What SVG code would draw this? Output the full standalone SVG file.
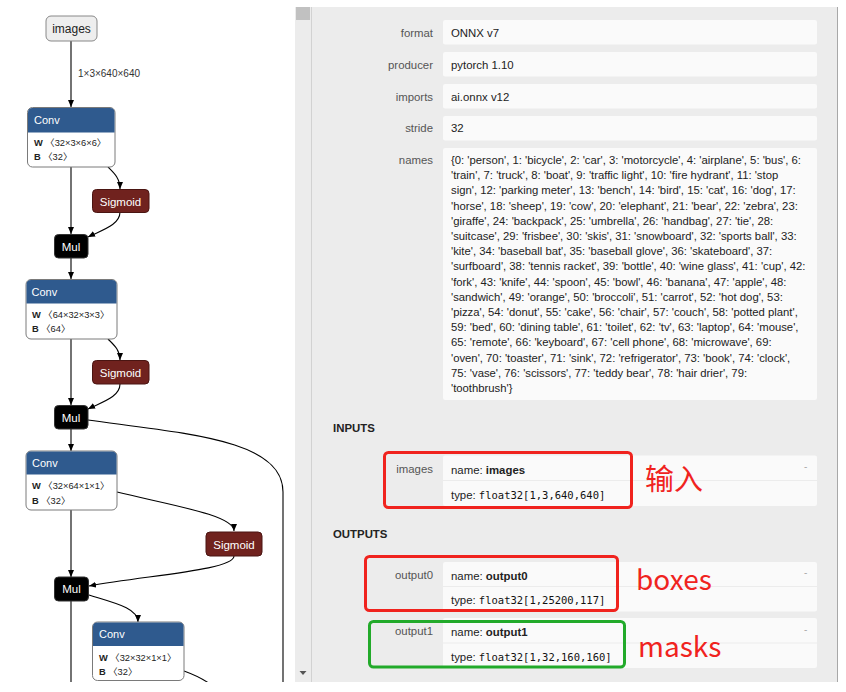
<svg xmlns="http://www.w3.org/2000/svg" width="846" height="692" viewBox="0 0 846 692">
<style>
.t{font-family:"Liberation Sans","Noto Sans CJK SC",sans-serif;}
.hd{font-size:11px;fill:#fff;}
.nm{font-size:11.5px;fill:#fff;text-anchor:middle;}
.bd{font-size:9.3px;fill:#222;}
.bd tspan.b{font-weight:bold;}
.cv{fill:#fff;stroke:#7a7a7a;stroke-width:1;}
.cvh{fill:#2f5a8e;}
.sg{fill:#70221e;stroke:#4a1512;stroke-width:1;}
.ml{fill:#000;stroke:#333;stroke-width:1;}
.edge{fill:none;stroke:#000;stroke-width:1.1;}
.lab{font-size:11.4px;fill:#555;text-anchor:end;}
.val{font-size:11.4px;fill:#222;}
.nmz{font-size:11.3px;fill:#222;}
.box{fill:#fafafa;}
.div{stroke:#ececec;stroke-width:1;}
.mono{font-family:"DejaVu Sans Mono","Liberation Mono",monospace;font-size:10.5px;fill:#111;}
.sec{font-size:11.4px;font-weight:bold;fill:#222;}
.dash{font-size:10px;fill:#aaa;}
.ann{font-family:"Noto Sans CJK SC","Noto Sans",sans-serif;fill:#f0231e;}
</style>
<defs>
<marker id="ah" markerWidth="7" markerHeight="6" refX="7" refY="3" orient="auto" markerUnits="userSpaceOnUse">
<path d="M0,0 L7,3 L0,6 z" fill="#000"/>
</marker>
<clipPath id="cl"><rect x="0" y="0" width="846" height="682"/></clipPath>
</defs>
<rect width="846" height="692" fill="#fff"/>

<g id="graph" clip-path="url(#cl)">
<g id="connectors">
<path class="edge" d="M71,41 V107" marker-end="url(#ah)"/>
<text class="t" x="78" y="76.5" font-size="10" fill="#333">1×3×640×640</text>
<path class="edge" d="M108,167 C114,173 120,178 120,189" marker-end="url(#ah)"/>
<path class="edge" d="M71,167 V234" marker-end="url(#ah)"/>
<path class="edge" d="M120,212 C120,225 102,230 88,237" marker-end="url(#ah)"/>
<path class="edge" d="M71,258 V279" marker-end="url(#ah)"/>
<path class="edge" d="M108,339 C114,345 120,350 120,360" marker-end="url(#ah)"/>
<path class="edge" d="M71,339 V405" marker-end="url(#ah)"/>
<path class="edge" d="M120,384 C120,397 102,402 88,409" marker-end="url(#ah)"/>
<path class="edge" d="M71,429 V451" marker-end="url(#ah)"/>
<path class="edge" d="M88,420 C190,434 283,440 283,492 V690"/>
<path class="edge" d="M117,492 C170,505 234,515 234,531" marker-end="url(#ah)"/>
<path class="edge" d="M71,510 V577" marker-end="url(#ah)"/>
<path class="edge" d="M234,556 C234,570 150,575 89,586" marker-end="url(#ah)"/>
<path class="edge" d="M71,601 V690"/>
<path class="edge" d="M89,595 C115,603 138,608 138,622" marker-end="url(#ah)"/>
<path class="edge" d="M184,671 C195,675 205,679 215,688"/>
</g>

<g id="n-images">
<rect x="46" y="16" width="51" height="25" rx="5" fill="#eee" stroke="#888"/>
<text class="t" x="71.5" y="32.5" font-size="12" fill="#222" text-anchor="middle">images</text>
</g>

<g id="n-conv1">
<rect class="cv" x="27.5" y="107.5" width="87.5" height="59.5" rx="5"/>
<path class="cvh" d="M28,132.5 V112.5 Q28,108 32.5,108 H110 Q114.5,108 114.5,112.5 V132.5 Z"/>
<text class="t hd" x="34" y="124">Conv</text>
<text class="t bd" x="34" y="146"><tspan class="b">W</tspan> 〈32×3×6×6〉</text>
<text class="t bd" x="34" y="160"><tspan class="b">B</tspan> 〈32〉</text>
</g>
<g id="n-sig1">
<rect class="sg" x="92.5" y="189.5" width="56.5" height="23" rx="4"/>
<text class="t nm" x="120.5" y="205.5">Sigmoid</text>
</g>
<g id="n-mul1">
<rect class="ml" x="54.5" y="234.5" width="33.5" height="23.5" rx="4"/>
<text class="t nm" x="71" y="250.5">Mul</text>
</g>

<g id="n-conv2">
<rect class="cv" x="26" y="279.5" width="91" height="59.5" rx="5"/>
<path class="cvh" d="M26.5,303.5 V284.5 Q26.5,280 31,280 H112 Q116.5,280 116.5,284.5 V303.5 Z"/>
<text class="t hd" x="31.5" y="295.5">Conv</text>
<text class="t bd" x="32" y="318"><tspan class="b">W</tspan> 〈64×32×3×3〉</text>
<text class="t bd" x="32" y="332"><tspan class="b">B</tspan> 〈64〉</text>
</g>
<g id="n-sig2">
<rect class="sg" x="92.5" y="360.5" width="56.5" height="23.5" rx="4"/>
<text class="t nm" x="120.5" y="376.5">Sigmoid</text>
</g>
<g id="n-mul2">
<rect class="ml" x="54.5" y="405.5" width="33.5" height="23.5" rx="4"/>
<text class="t nm" x="71" y="421.5">Mul</text>
</g>

<g id="n-conv3">
<rect class="cv" x="26" y="451" width="91" height="59" rx="5"/>
<path class="cvh" d="M26.5,474.5 V456 Q26.5,451.5 31,451.5 H112 Q116.5,451.5 116.5,456 V474.5 Z"/>
<text class="t hd" x="32" y="467">Conv</text>
<text class="t bd" x="32" y="489"><tspan class="b">W</tspan> 〈32×64×1×1〉</text>
<text class="t bd" x="32" y="504"><tspan class="b">B</tspan> 〈32〉</text>
</g>
<g id="n-sig3">
<rect class="sg" x="206" y="532" width="56" height="24" rx="4"/>
<text class="t nm" x="234" y="548.5">Sigmoid</text>
</g>
<g id="n-mul3">
<rect class="ml" x="54.5" y="577" width="34" height="24" rx="4"/>
<text class="t nm" x="71.5" y="593">Mul</text>
</g>

<g id="n-conv4">
<rect class="cv" x="92.5" y="622" width="91.5" height="58.5" rx="5"/>
<path class="cvh" d="M93,646 V626.5 Q93,622.5 97.5,622.5 H179 Q183.5,622.5 183.5,626.5 V646 Z"/>
<text class="t hd" x="99" y="638">Conv</text>
<text class="t bd" x="99" y="661"><tspan class="b">W</tspan> 〈32×32×1×1〉</text>
<text class="t bd" x="99" y="675"><tspan class="b">B</tspan> 〈32〉</text>
</g>
</g>

<g id="panel">
<rect x="295" y="7" width="542.5" height="675" fill="#ececec"/>
<line x1="311.5" y1="7" x2="311.5" y2="682" stroke="#d2d2d2"/>
<line x1="837.5" y1="7" x2="837.5" y2="682" stroke="#a8a8a8"/>
<rect x="296" y="7" width="14" height="13" fill="#c1c1c1"/>
<path d="M299.5,671 H306.5 L303,675 Z" fill="#555"/>

<g id="f-format">
<text class="t lab" x="433" y="36.5">format</text>
<rect class="box" x="443" y="20" width="374" height="24.5" rx="2"/>
<text class="t val" x="451" y="36.5">ONNX v7</text>
</g>
<g id="f-producer">
<text class="t lab" x="433" y="68.5">producer</text>
<rect class="box" x="443" y="52" width="374" height="24.5" rx="2"/>
<text class="t val" x="451" y="68.5">pytorch 1.10</text>
</g>
<g id="f-imports">
<text class="t lab" x="433" y="100.5">imports</text>
<rect class="box" x="443" y="84" width="374" height="24.5" rx="2"/>
<text class="t val" x="451" y="100.5">ai.onnx v12</text>
</g>
<g id="f-stride">
<text class="t lab" x="433" y="132">stride</text>
<rect class="box" x="443" y="116" width="374" height="24.5" rx="2"/>
<text class="t val" x="451" y="132">32</text>
</g>
<g id="f-names">
<text class="t lab" x="433" y="164">names</text>
<rect class="box" x="443" y="148" width="374" height="252" rx="2"/>
<text class="t nmz" x="451" y="164">{0: 'person', 1: 'bicycle', 2: 'car', 3: 'motorcycle', 4: 'airplane', 5: 'bus', 6:</text>
<text class="t nmz" x="451" y="179.2">'train', 7: 'truck', 8: 'boat', 9: 'traffic light', 10: 'fire hydrant', 11: 'stop</text>
<text class="t nmz" x="451" y="194.4">sign', 12: 'parking meter', 13: 'bench', 14: 'bird', 15: 'cat', 16: 'dog', 17:</text>
<text class="t nmz" x="451" y="209.6">'horse', 18: 'sheep', 19: 'cow', 20: 'elephant', 21: 'bear', 22: 'zebra', 23:</text>
<text class="t nmz" x="451" y="224.8">'giraffe', 24: 'backpack', 25: 'umbrella', 26: 'handbag', 27: 'tie', 28:</text>
<text class="t nmz" x="451" y="240">'suitcase', 29: 'frisbee', 30: 'skis', 31: 'snowboard', 32: 'sports ball', 33:</text>
<text class="t nmz" x="451" y="255.2">'kite', 34: 'baseball bat', 35: 'baseball glove', 36: 'skateboard', 37:</text>
<text class="t nmz" x="451" y="270.4">'surfboard', 38: 'tennis racket', 39: 'bottle', 40: 'wine glass', 41: 'cup', 42:</text>
<text class="t nmz" x="451" y="285.6">'fork', 43: 'knife', 44: 'spoon', 45: 'bowl', 46: 'banana', 47: 'apple', 48:</text>
<text class="t nmz" x="451" y="300.8">'sandwich', 49: 'orange', 50: 'broccoli', 51: 'carrot', 52: 'hot dog', 53:</text>
<text class="t nmz" x="451" y="316">'pizza', 54: 'donut', 55: 'cake', 56: 'chair', 57: 'couch', 58: 'potted plant',</text>
<text class="t nmz" x="451" y="331.2">59: 'bed', 60: 'dining table', 61: 'toilet', 62: 'tv', 63: 'laptop', 64: 'mouse',</text>
<text class="t nmz" x="451" y="346.4">65: 'remote', 66: 'keyboard', 67: 'cell phone', 68: 'microwave', 69:</text>
<text class="t nmz" x="451" y="361.6">'oven', 70: 'toaster', 71: 'sink', 72: 'refrigerator', 73: 'book', 74: 'clock',</text>
<text class="t nmz" x="451" y="376.8">75: 'vase', 76: 'scissors', 77: 'teddy bear', 78: 'hair drier', 79:</text>
<text class="t nmz" x="451" y="392">'toothbrush'}</text>
</g>

<text class="t sec" x="333" y="432">INPUTS</text>
<g id="in-images">
<text class="t lab" x="433" y="473">images</text>
<rect class="box" x="443" y="455.5" width="374" height="50.5" rx="2"/>
<line class="div" x1="443" y1="480.5" x2="817" y2="480.5"/>
<text class="t val" x="451" y="474">name: <tspan font-weight="bold">images</tspan></text>
<text class="t val" x="451" y="499">type: <tspan class="mono">float32[1,3,640,640]</tspan></text>
<text class="t dash" x="804" y="470">-</text>
</g>

<text class="t sec" x="333" y="538">OUTPUTS</text>
<g id="out-0">
<text class="t lab" x="433" y="579">output0</text>
<rect class="box" x="443" y="562" width="374" height="49.5" rx="2"/>
<line class="div" x1="443" y1="586.5" x2="817" y2="586.5"/>
<text class="t val" x="451" y="580">name: <tspan font-weight="bold">output0</tspan></text>
<text class="t val" x="451" y="604">type: <tspan class="mono">float32[1,25200,117]</tspan></text>
<text class="t dash" x="804" y="576">-</text>
</g>
<g id="out-1">
<text class="t lab" x="433" y="635">output1</text>
<rect class="box" x="443" y="618" width="374" height="50" rx="2"/>
<line class="div" x1="443" y1="643" x2="817" y2="643"/>
<text class="t val" x="451" y="636">name: <tspan font-weight="bold">output1</tspan></text>
<text class="t val" x="451" y="661">type: <tspan class="mono">float32[1,32,160,160]</tspan></text>
<text class="t dash" x="804" y="633">-</text>
</g>
</g>

<g id="annotations">
<rect x="384.5" y="452.5" width="247" height="55" rx="4" fill="none" stroke="#f0231e" stroke-width="3"/>
<text class="ann" x="645" y="490" font-size="29">输入</text>
<rect x="365.5" y="556.5" width="252" height="54" rx="4" fill="none" stroke="#f0231e" stroke-width="3"/>
<text class="ann" x="636" y="590" font-size="28">boxes</text>
<rect x="369.5" y="621.5" width="255" height="45.5" rx="4" fill="none" stroke="#22aa2a" stroke-width="3"/>
<text class="ann" x="638" y="657" font-size="28">masks</text>
</g>
</svg>
